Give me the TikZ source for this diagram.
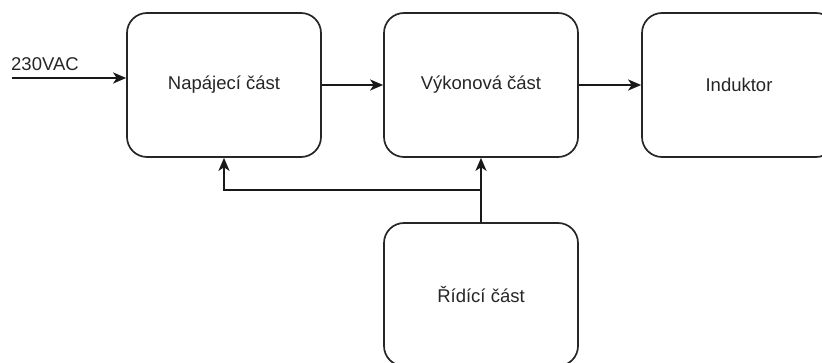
\documentclass[tikz,border=0pt]{standalone}
\usepackage{fontspec}
\setmainfont{Liberation Sans}
\usetikzlibrary{arrows.meta}
\begin{document}
\begin{tikzpicture}[x=1pt,y=-1pt,
  blk/.style={draw=black!85, line width=1.7pt, rounded corners=20pt, minimum width=194pt, minimum height=144pt, inner sep=0pt, fill=white, font=\fontsize{18.5}{22}\selectfont, text=black!85},
  arr/.style={draw=black!90, line width=1.7pt, -{Stealth[length=13pt,width=11pt,inset=3.5pt]}},
  lbl/.style={font=\fontsize{18.5}{22}\selectfont, text=black!85, inner sep=0pt}]
\useasboundingbox (0,0) rectangle (822,363);
\clip (0,0) rectangle (822,363);
\node[blk] (nap) at (224,85) {Napájecí část};
\node[blk] (vyk) at (481,85) {Výkonová část};
\node[blk] (ind) at (739,85) {Induktor};
\node[blk, minimum height=143pt] (rid) at (481,294.5) {Řídící část};
\node[lbl, anchor=base west] (vac) at (11,71) {230VAC};
\coordinate (in) at (12,78);
\coordinate (br) at (481,190);
\draw[arr] (in) -- (in -| nap.west);
\draw[arr] (nap.east) -- (vyk.west);
\draw[arr] (vyk.east) -- (ind.west);
\draw[arr] (rid.north) -- (vyk.south);
\draw[arr] (br) -| (nap.south);
\end{tikzpicture}
\end{document}
